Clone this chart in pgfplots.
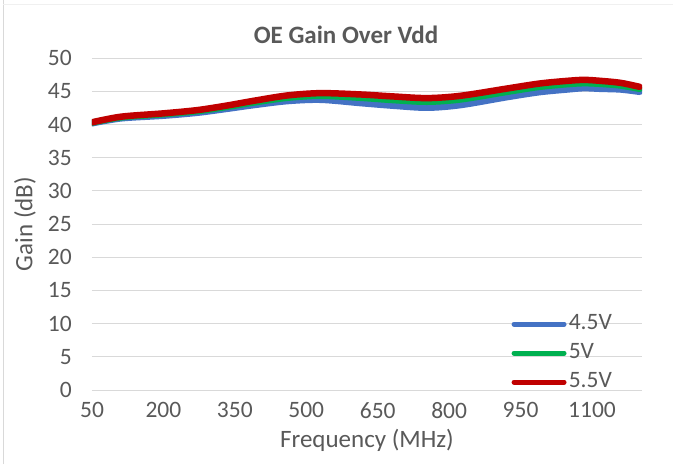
\documentclass[border=0pt]{standalone}
\usepackage{fontspec}
\setmainfont{Carlito}
\usepackage{pgfplots}
\pgfplotsset{compat=1.18}
\definecolor{txt}{HTML}{595959}
\definecolor{grd}{HTML}{D9D9D9}
\definecolor{c45}{HTML}{4472C4}
\definecolor{c50}{HTML}{00B050}
\definecolor{c55}{HTML}{C00000}

\pgfplotstableread{
f     v45    v50    v55
50    40.20  40.30  40.35
111   40.95  41.10  41.20
200   41.35  41.58  41.70
272   41.80  42.05  42.20
335   42.40  42.70  42.90
390   42.95  43.35  43.60
460   43.55  44.05  44.40
530   43.75  44.35  44.75
614   43.25  44.05  44.55
683   42.85  43.70  44.25
754   42.55  43.45  44.00
824   42.95  43.80  44.35
922   44.15  44.95  45.45
990   44.90  45.70  46.20
1048  45.30  46.10  46.60
1083  45.50  46.25  46.75
1118  45.40  46.15  46.60
1160  45.30  45.90  46.30
1200  44.95  45.40  45.70
}\gaindata

\begin{document}
\begin{tikzpicture}
\path[use as bounding box] (-92pt,-74pt) rectangle (581pt,390pt);
\draw[grd, line width=1.5pt] (-88.5pt,-74pt) -- (-88.5pt,390pt);
\draw[grd!40, line width=1pt] (-88.5pt,385pt) -- (581pt,385pt);
\begin{axis}[
  scale only axis, width=550pt, height=331.7pt,
  xmin=50, xmax=1205, ymin=0, ymax=50,
  xtick={50,200,350,500,650,800,950,1100},
  ytick={0,5,...,50},
  ymajorgrids, grid style={grd, line width=1pt},
  axis line style={draw=none}, major tick length=0pt,
  tick label style={font=\fontsize{23.5}{24}\selectfont, text=txt},
  /pgf/number format/assume math mode=true,
  /pgf/number format/1000 sep={},
  xticklabel style={anchor=north, inner sep=0pt, yshift=-12pt},
  yticklabel style={anchor=east, inner sep=0pt, xshift=-20pt},
  xlabel={Frequency (MHz)},
  ylabel={Gain (dB)},
  label style={font=\fontsize{25}{26}\selectfont, text=txt},
  xlabel style={at={(axis description cs:0.5,-0.151)}, anchor=center},
  ylabel style={at={(axis description cs:-0.122,0.5)}, anchor=center},
  legend style={draw=none, fill=none, at={(0.757,0.24)}, anchor=north west,
    font=\fontsize{23.5}{24}\selectfont, text=txt, row sep=6pt,
    nodes={inner sep=0pt, text height=17pt, text depth=6pt}},
  legend cell align=left,
  legend image code/.code={\draw[#1, line width=5pt, line cap=round] (2.5pt,0pt) -- (52.5pt,0pt);
    \path (54pt,0pt);},
  every axis plot/.append style={line width=6.5pt, line cap=round, line join=round, smooth, no marks},
]
\addplot[c45] table[x=f, y=v45] {\gaindata};
\addplot[c50] table[x=f, y=v50] {\gaindata};
\addplot[c55] table[x=f, y=v55] {\gaindata};
\legend{4.5V, 5V, 5.5V}
\end{axis}
\node[font=\fontsize{25}{26}\selectfont\bfseries, text=txt] at (254pt,355pt) {OE Gain Over Vdd};
\end{tikzpicture}
\end{document}
